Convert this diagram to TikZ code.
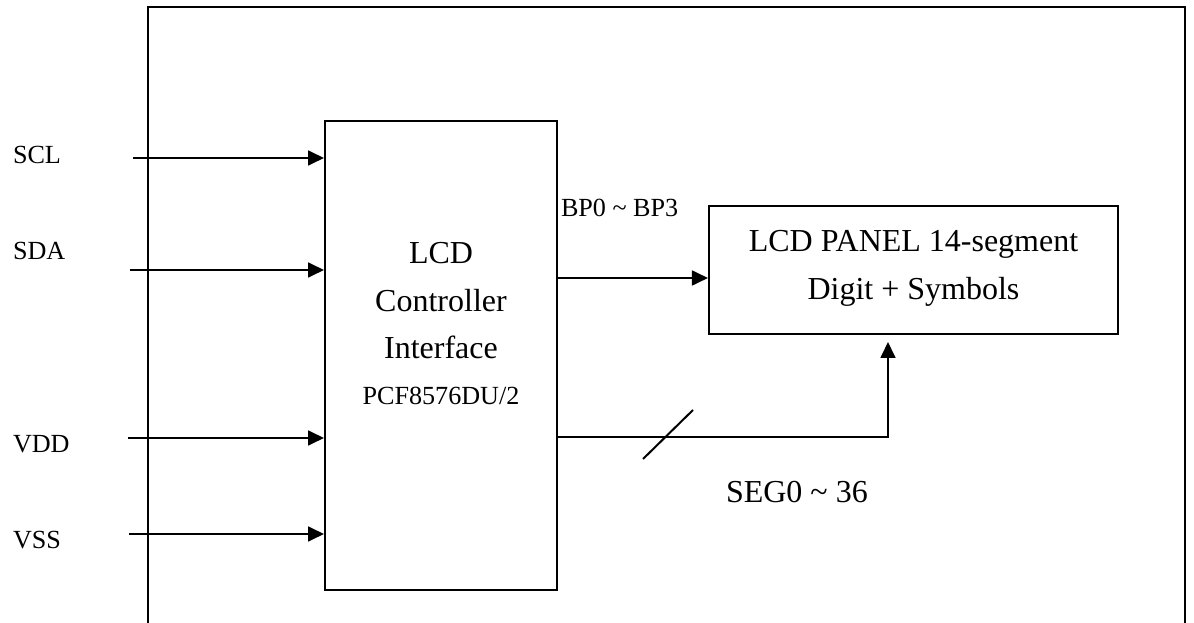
\documentclass[tikz,border=0pt]{standalone}
\usepackage{fontspec}
\setmainfont{Liberation Serif}
\usepackage{tikz}
\usetikzlibrary{arrows.meta}

\begin{document}
\begin{tikzpicture}[x=0.375pt,y=-0.375pt,line width=0.75pt,
    every node/.style={anchor=base,inner sep=0pt},
    big/.style={font=\fontsize{12}{14}\selectfont},
    small/.style={font=\fontsize{9.8}{12}\selectfont},
    blk/.style={draw,anchor=center,line width=0.75pt},
    sig/.style={-{Triangle[length=6pt,width=5.6pt]}}]
  \useasboundingbox (0,0) rectangle (1194,623);
  % outer frame, open at the bottom
  \draw (148,623) |- (1185,7) -- (1185,623);
  % blocks
  \node[blk,minimum width=87pt,minimum height=175.9pt] (ctrl) at (441,355.5) {};
  \node[blk,minimum width=153.4pt,minimum height=48pt] (panel) at (913.5,270) {};
  \node[big] (c1) at (441,264) {LCD};
  \node[big] (c2) at (441,312) {Controller};
  \node[big] (c3) at (441,359) {Interface};
  \node[small] (c4) at (441,405) {PCF8576DU/2};
  \node[big] (p1) at (913.5,252) {LCD PANEL 14-segment};
  \node[big] (p2) at (913.5,300) {Digit + Symbols};
  % inputs
  \node[small,anchor=base west] (scl) at (12,164) {SCL};
  \node[small,anchor=base west] (sda) at (12,260) {SDA};
  \node[small,anchor=base west] (vdd) at (12,453) {VDD};
  \node[small,anchor=base west] (vss) at (12,549) {VSS};
  \coordinate (sclin) at (133,158);
  \coordinate (sdain) at (130,270);
  \coordinate (vddin) at (128,438);
  \coordinate (vssin) at (129,534);
  \foreach \s in {sclin,sdain,vddin,vssin}{\draw[sig] (\s) -- (\s -| ctrl.west);}
  % outputs
  \coordinate (bpy) at (600,278);
  \draw[sig] (ctrl.east |- bpy) -- (panel.west |- bpy);
  \node[small,anchor=base west] (bp) at (560,217) {BP0 \textasciitilde{} BP3};
  \coordinate (segy) at (600,437);
  \coordinate (segend) at (888,342);
  \draw[sig] (ctrl.east |- segy) -| (segend);
  \draw (643,459) -- (693,410);
  \node[big,anchor=base west] (seg) at (725,503) {SEG0 \textasciitilde{} 36};
\end{tikzpicture}
\end{document}
